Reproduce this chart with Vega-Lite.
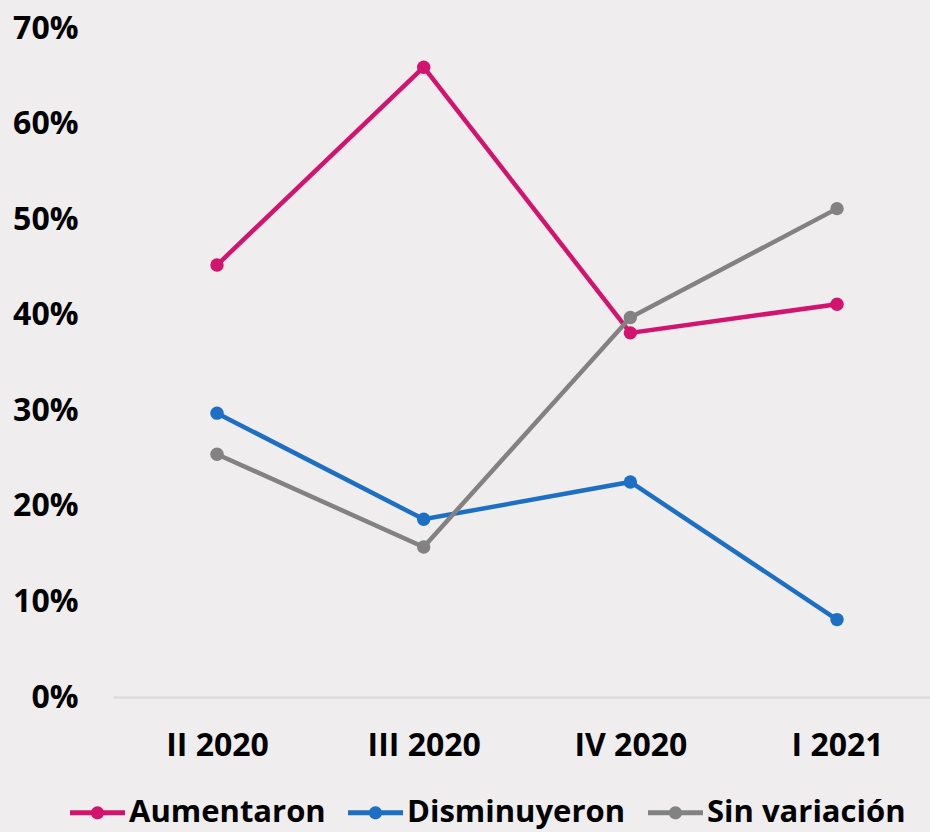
{
  "$schema": "https://vega.github.io/schema/vega-lite/v6.json",
  "autosize": "none",
  "width": 817,
  "height": 669,
  "padding": {"left": 113, "top": 28, "right": 0, "bottom": 135},
  "background": "#EFEDEE",
  "config": {
    "view": {"stroke": null},
    "font": "Open Sans",
    "axis": {"labelFont": "Open Sans", "labelFontWeight": "bold", "labelFontSize": 32, "labelColor": "#000000"},
    "legend": {"labelFont": "Open Sans", "labelFontWeight": "bold", "labelFontSize": 31, "labelColor": "#000000"}
  },
  "data": {
    "values": [
      {"trimestre": "II 2020", "serie": "Aumentaron", "valor": 0.452},
      {"trimestre": "III 2020", "serie": "Aumentaron", "valor": 0.659},
      {"trimestre": "IV 2020", "serie": "Aumentaron", "valor": 0.381},
      {"trimestre": "I 2021", "serie": "Aumentaron", "valor": 0.411},
      {"trimestre": "II 2020", "serie": "Disminuyeron", "valor": 0.297},
      {"trimestre": "III 2020", "serie": "Disminuyeron", "valor": 0.186},
      {"trimestre": "IV 2020", "serie": "Disminuyeron", "valor": 0.225},
      {"trimestre": "I 2021", "serie": "Disminuyeron", "valor": 0.081},
      {"trimestre": "II 2020", "serie": "Sin variación", "valor": 0.254},
      {"trimestre": "III 2020", "serie": "Sin variación", "valor": 0.157},
      {"trimestre": "IV 2020", "serie": "Sin variación", "valor": 0.397},
      {"trimestre": "I 2021", "serie": "Sin variación", "valor": 0.511}
    ]
  },
  "encoding": {
    "x": {
      "field": "trimestre", "type": "ordinal", "sort": ["II 2020", "III 2020", "IV 2020", "I 2021"],
      "scale": {"type": "point", "padding": 0.4766, "align": 0.528},
      "axis": {"title": null, "labelAngle": 0, "ticks": false, "domainColor": "#D9D9D9", "domainWidth": 2, "labelPadding": 33, "grid": false}
    },
    "y": {
      "field": "valor", "type": "quantitative",
      "scale": {"domain": [0, 0.7], "nice": false},
      "axis": {"title": null, "format": ".0%", "values": [0, 0.1, 0.2, 0.3, 0.4, 0.5, 0.6, 0.7], "domain": false, "ticks": false, "grid": false, "labelPadding": 35, "labelBaseline": "middle"}
    },
    "color": {
      "field": "serie", "type": "nominal",
      "scale": {"domain": ["Aumentaron", "Disminuyeron", "Sin variación"], "range": ["#D2146E", "#1C6FC3", "#828282"]},
      "legend": {
        "title": null, "orient": "none", "direction": "horizontal", "legendX": -43, "legendY": 757,
        "labelLimit": 400, "labelOffset": 4, "columnPadding": 22,
        "symbolType": "M-1,-0.09H1V0.09H-1Z M-0.24,0A0.24,0.24 0 1,1 0.24,0A0.24,0.24 0 1,1 -0.24,0Z",
        "symbolSize": 3025, "symbolStrokeWidth": 0,
        "encode": {"symbols": {"update": {
          "fill": {"field": "value", "scale": "color"},
          "strokeWidth": {"value": 0},
          "size": {"value": 3025},
          "shape": {"value": "M-1,-0.09H1V0.09H-1Z M-0.24,0A0.24,0.24 0 1,1 0.24,0A0.24,0.24 0 1,1 -0.24,0Z"},
          "opacity": {"value": 1}
        }}}
      }
    }
  },
  "layer": [
    {"mark": {"type": "line", "strokeWidth": 4.5}},
    {"mark": {"type": "point", "filled": true, "size": 180, "opacity": 1}}
  ]
}
